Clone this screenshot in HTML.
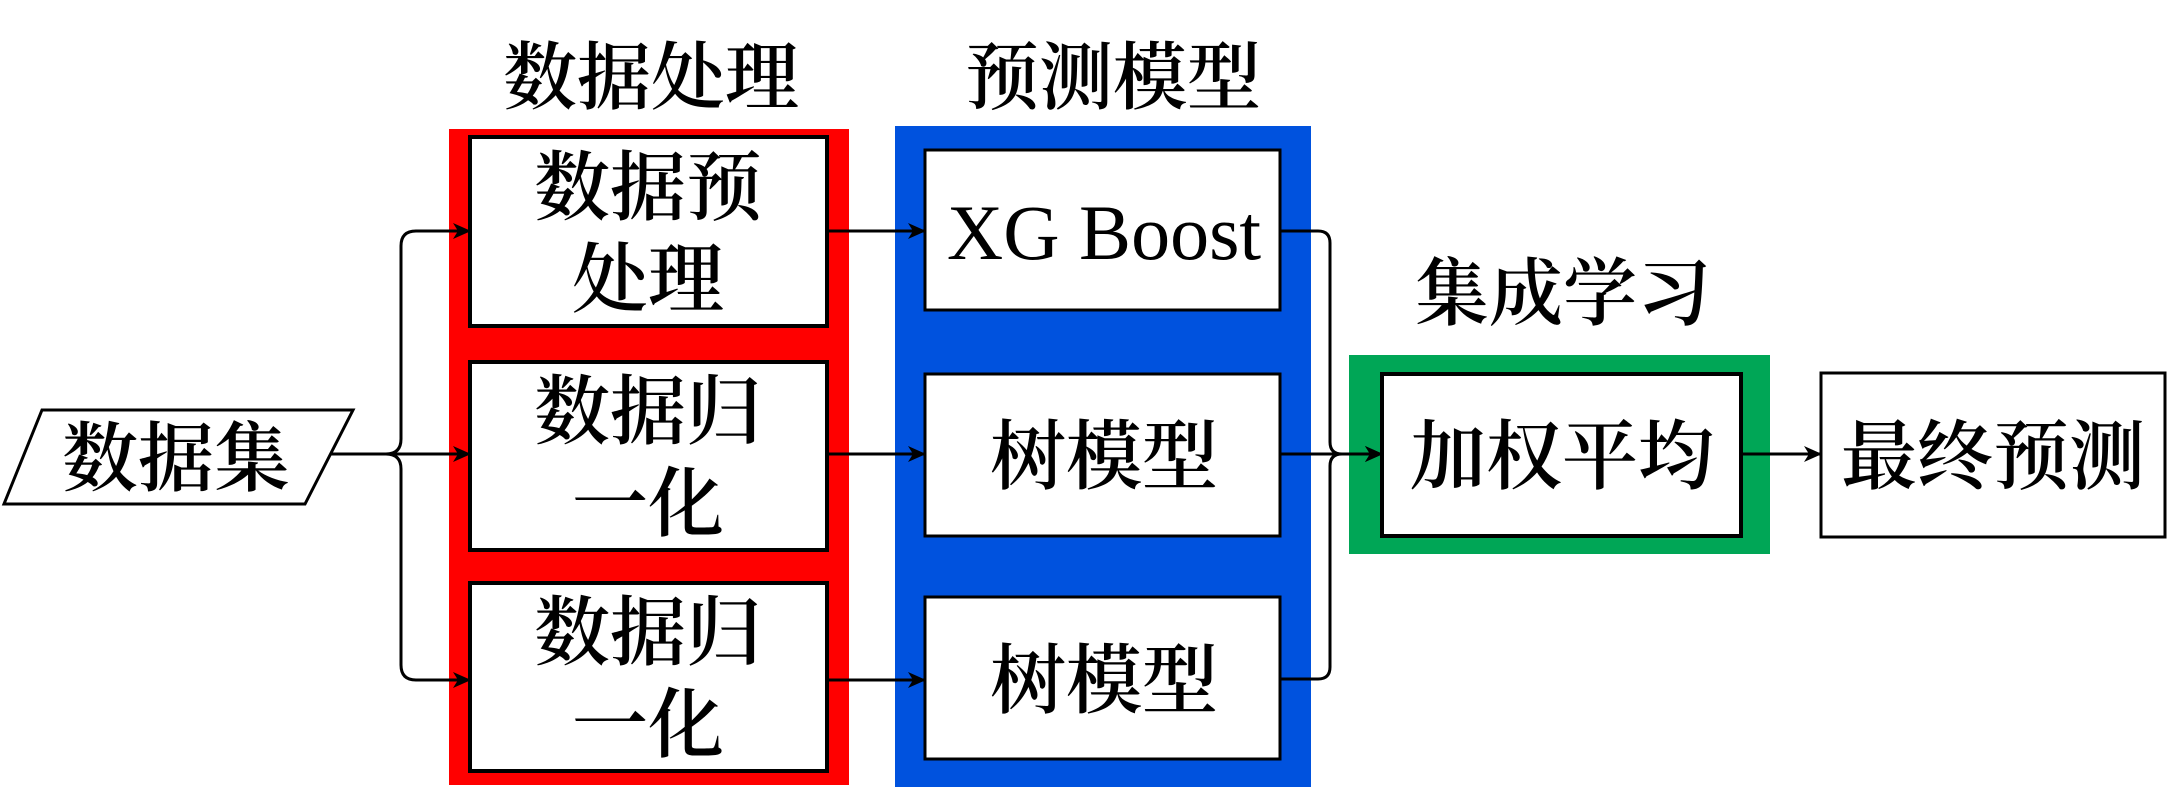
<!DOCTYPE html>
<html><head><meta charset="utf-8"><style>
html,body{margin:0;padding:0;background:#fff;}
svg{display:block}
text{font-family:"Liberation Serif","Noto Serif CJK SC",serif;fill:#000;font-weight:600;}
text.en{font-weight:400;}
</style></head><body>
<svg width="2176" height="804" viewBox="0 0 2176 804" xmlns="http://www.w3.org/2000/svg">
<defs>
<marker id="b" markerWidth="18" markerHeight="16" refX="17" refY="8" orient="auto" markerUnits="userSpaceOnUse"><path d="M0,0 L18,8 L0,16 L5,8 z" fill="#000"/></marker></defs>
<g font-size="74" text-anchor="middle">
<text x="651" y="103">数据处理</text>
<text x="1113" y="103">预测模型</text>
<text x="1563" y="319">集成学习</text>
</g>
<rect x="449" y="129" width="400" height="656" fill="#ff0000"/>
<rect x="895" y="126" width="416" height="661" fill="#0052de"/>
<rect x="1349" y="355" width="421" height="199" fill="#00a656"/>
<g fill="#fff" stroke="#000" stroke-width="4">
<rect x="470" y="137" width="357" height="189"/>
<rect x="470" y="362" width="357" height="188"/>
<rect x="470" y="583" width="357" height="188"/>
<rect x="925" y="150" width="355" height="160" stroke-width="3"/>
<rect x="925" y="374" width="355" height="162" stroke-width="3"/>
<rect x="925" y="597" width="355" height="162" stroke-width="3"/>
<rect x="1382" y="374" width="359" height="162"/>
<rect x="1821" y="373" width="344" height="164" stroke-width="3"/>
<polygon points="42,410 353,410 305,504 4,504" stroke-width="3"/>
</g>
<g fill="none" stroke="#000" stroke-width="3">
<path d="M330,454 H386 Q401,454 401,439 V246 Q401,231 416,231 H470" marker-end="url(#b)"/>
<path d="M386,454 H470" marker-end="url(#b)"/>
<path d="M386,454 Q401,454 401,469 V665 Q401,680 416,680 H470" marker-end="url(#b)"/>
<path d="M827,231 H925" marker-end="url(#b)"/>
<path d="M827,454 H925" marker-end="url(#b)"/>
<path d="M827,680 H925" marker-end="url(#b)"/>
<path d="M1280,231 H1318 Q1330,231 1330,243 V442 Q1330,454 1342,454 H1382" marker-end="url(#b)"/>
<path d="M1280,454 H1382" marker-end="url(#b)"/>
<path d="M1280,679 H1318 Q1330,679 1330,667 V466 Q1330,454 1342,454" />
<path d="M1741,454 H1821" marker-end="url(#b)"/>
</g>
<g font-size="76" text-anchor="middle">
<text x="648" y="214">数据预</text>
<text x="648" y="306">处理</text>
<text x="648" y="438">数据归</text>
<text x="648" y="530">一化</text>
<text x="648" y="659">数据归</text>
<text x="648" y="751">一化</text>
<text class="en" x="1104" y="259" font-size="78">XG Boost</text>
<text x="1104" y="483">树模型</text>
<text x="1104" y="707">树模型</text>
<text x="1562" y="483">加权平均</text>
<text x="1993" y="483">最终预测</text>
<text x="176" y="485">数据集</text>
</g>
</svg>
</body></html>
